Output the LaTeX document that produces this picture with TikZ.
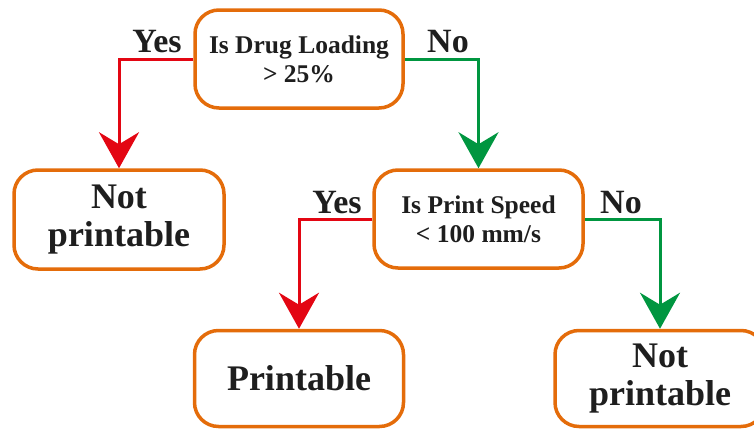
\documentclass[tikz,border=0pt]{standalone}
\usepackage{fontspec}
\setmainfont{Liberation Serif}
\usetikzlibrary{arrows.meta}
\definecolor{boxorange}{RGB}{228,108,10}
\definecolor{yesred}{RGB}{227,6,19}
\definecolor{nogreen}{RGB}{0,150,64}
\definecolor{ink}{RGB}{30,30,30}
\begin{document}
\begin{tikzpicture}[x=1pt,y=-1pt,
  decision/.style={draw=boxorange, line width=3.5pt, rounded corners=24pt,
    fill=white, align=center, text=ink, inner sep=0pt,
    font=\bfseries\fontsize{25.5}{29}\selectfont},
  outcome/.style={decision, font=\bfseries\fontsize{36}{37.5}\selectfont},
  branchlabel/.style={text=ink, inner sep=0pt, anchor=base,
    font=\bfseries\fontsize{34}{36}\selectfont},
  flow/.style={line width=3pt,
    -{Stealth[length=36pt, width=40pt, inset=12pt]}},
  yesflow/.style={flow, draw=yesred},
  noflow/.style={flow, draw=nogreen}]
\useasboundingbox (0,0) rectangle (754,431);

% decision boxes
\node[decision, minimum width=208pt, minimum height=98pt] (q1) at (299,59)
  {Is Drug Loading\\> 25\%};
\node[decision, minimum width=209pt, minimum height=98pt] (q2) at (478.5,219)
  {Is Print Speed\\< 100 mm/s};

% outcome boxes
\node[outcome, minimum width=210pt, minimum height=99pt] (np1) at (119,219.5)
  {Not\\printable};
\node[outcome, minimum width=209pt, minimum height=96pt] (pr) at (299,378.5)
  {Printable};
\node[outcome, minimum width=210pt, minimum height=96pt] (np2) at (660,378.5)
  {Not\\printable};

% connectors
\draw[yesflow] (q1.west) -| (np1.north);
\draw[noflow]  (q1.east) -| (q2.north);
\draw[yesflow] (q2.west) -| (pr.north);
\draw[noflow]  (q2.east) -| (np2.north);

% branch labels
\node[branchlabel] (y1) at (157,52) {Yes};
\node[branchlabel] (n1) at (448,52) {No};
\node[branchlabel] (y2) at (337,213) {Yes};
\node[branchlabel] (n2) at (621,213) {No};
\end{tikzpicture}
\end{document}
